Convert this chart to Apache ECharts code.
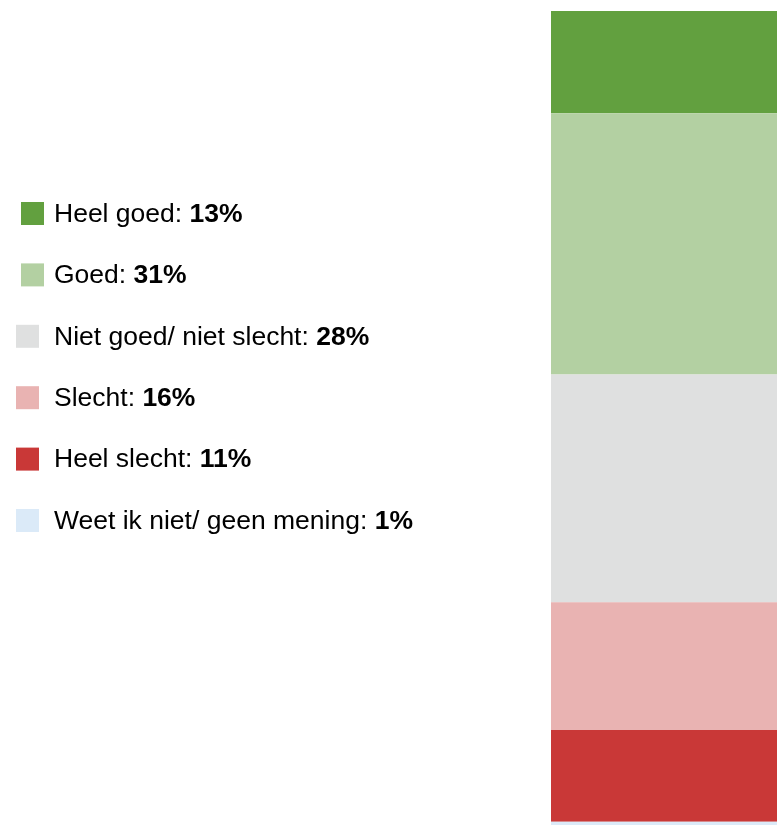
<!DOCTYPE html>
<html>
<head>
<meta charset="utf-8">
<script src="https://cdn.jsdelivr.net/npm/echarts@6/dist/echarts.min.js"></script>
<style>
html, body { margin: 0; padding: 0; background: #fff; }
#chart { width: 777px; height: 825px; }
</style>
</head>
<body>
<div id="chart"></div>
<script>
var categories = ['Heel goed', 'Goed', 'Niet goed/ niet slecht', 'Slecht', 'Heel slecht', 'Weet ik niet/ geen mening'];
var shares = [12.5, 31.9, 27.8, 15.6, 11.2, 1.0];
var shareLabels = ['13%', '31%', '28%', '16%', '11%', '1%'];
var colors = ['#62a03f', '#b3d0a2', '#dfe0e0', '#e9b3b2', '#c93837', '#dbeaf8'];

(function(){
	var chart = echarts.init(document.getElementById('chart'));
	var series = [], graphic = [];
	var font = "'Liberation Sans', Arial, sans-serif";
	for(var i = 0; i < categories.length; i++){
		series.push({
			name: categories[i],
			type: 'bar',
			stack: 'total',
			barWidth: '100%',
			itemStyle: { color: colors[i] },
			data: [shares[i]]
		});
		// legend, first two markers sit a bit more to the right
		var cy = 213.5 + i * 61.4,
			mx = i < 2 ? 21 : 16;
		graphic.push({
			type: 'rect',
			shape: { x: mx, y: cy - 11.5, width: 23, height: 23 },
			style: { fill: colors[i] }
		});
		graphic.push({
			type: 'text',
			x: 54,
			y: cy + 1,
			style: {
				text: '{n|' + categories[i] + ': }{b|' + shareLabels[i] + '}',
				verticalAlign: 'middle',
				rich: {
					n: { fontFamily: font, fontSize: 26.5, color: '#111' },
					b: { fontFamily: font, fontSize: 26.5, fontWeight: 'bold', color: '#111' }
				}
			}
		});
	}
	var option = {
		animation: false,
		// bar runs past the bottom edge, so the axis stops where the canvas stops
		grid: { left: 551, top: 11, width: 226, height: 814 },
		xAxis: { type: 'category', data: [''], show: false },
		yAxis: { type: 'value', min: 0, max: 99.4, inverse: true, show: false, splitLine: { show: false } },
		graphic: graphic,
		series: series
	};
	chart.setOption(option);
})();
</script>
</body>
</html>
